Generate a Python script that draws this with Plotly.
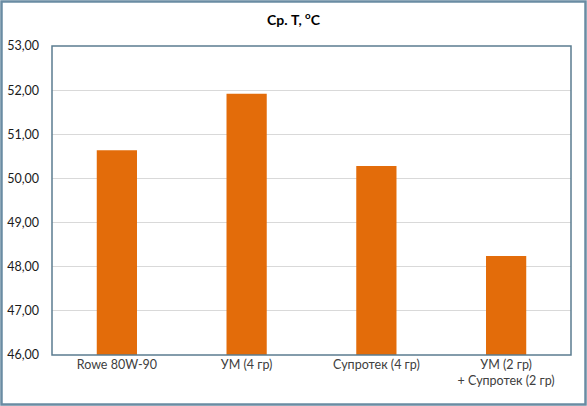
import plotly.graph_objects as go


categories = ["Rowe 80W-90", "УМ (4 гр)", "Супротек (4 гр)", "УМ (2 гр)<br>+ Супротек (2 гр)"]
avg_temp = [50.64, 51.92, 50.28, 48.24]
y_ticks = [46, 47, 48, 49, 50, 51, 52, 53]

W, H = 587, 406
M_L, M_R, M_T, M_B = 52, 16, 46, 51
PW = W - M_L - M_R
PH = H - M_T - M_B

fig = go.Figure(
    data=go.Bar(
        x=categories,
        y=avg_temp,
        marker=dict(color="#E36C0A", line=dict(width=0)),
        hovertemplate="%{x}: %{y:.2f}<extra></extra>",
    )
)

fig.update_layout(
    width=W,
    height=H,
    margin=dict(l=M_L, r=M_R, t=M_T, b=M_B, autoexpand=False),
    separators=", ",
    title=dict(
        text="<b>Ср. Т, <sup>o</sup>C</b>",
        x=0.5,
        xanchor="center",
        y=1 - 20 / H,
        yanchor="middle",
        font=dict(family="Lato, sans-serif", size=14, color="#000000"),
    ),
    font=dict(family="Lato, sans-serif", size=12, color="#404040"),
    plot_bgcolor="white",
    paper_bgcolor="white",
    bargap=0.69,
    showlegend=False,
    xaxis=dict(
        automargin=False,
        showgrid=False,
        showline=False,
        ticks="",
        tickfont=dict(size=12.5, color="#404040"),
    ),
    yaxis=dict(
        automargin=False,
        range=[46, 53],
        tickvals=y_ticks,
        tickformat=".2f",
        showgrid=True,
        gridcolor="#D9D9D9",
        gridwidth=1,
        zeroline=False,
        showline=False,
        ticks="",
        ticklabelstandoff=12,
        tickfont=dict(size=12.5, color="#1a1a1a"),
    ),
    shapes=[
        # plot area frame
        dict(
            type="rect", xref="paper", yref="paper",
            x0=0, x1=1, y0=0, y1=1,
            line=dict(color="#5B7C90", width=1.5),
            layer="above",
        ),
        # outer chart frame
        dict(
            type="rect", xref="paper", yref="paper",
            x0=(1.5 - M_L) / PW, x1=(W - 1.5 - M_L) / PW,
            y0=-(M_B - 1.5) / PH, y1=1 + (M_T - 1.5) / PH,
            line=dict(color="#6A8CA3", width=2.5),
            layer="above",
        ),
    ],
)

# page margin off so the chart fills the window exactly
fig.write_html(
    "out.html",
    config={"displayModeBar": False},
    post_script="document.body.style.margin='0';document.body.style.overflow='hidden';",
)
